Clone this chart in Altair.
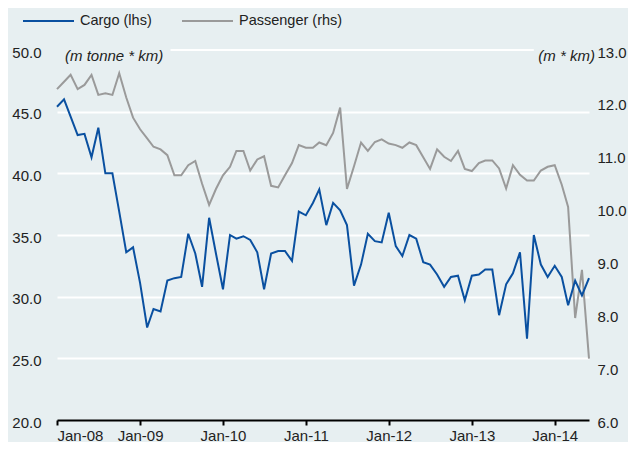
import altair as alt
import pandas as pd

months = pd.date_range("2008-01-01", periods=78, freq="MS").strftime("%Y-%m-%dT00:00:00").tolist()

cargo = [45.4, 46.0, 44.6, 43.1, 43.2, 41.3, 43.7, 40.0, 40.0, 36.9, 33.6, 34.0,
         31.1, 27.5, 29.0, 28.8, 31.3, 31.5, 31.6, 35.1, 33.5, 30.8, 36.4, 33.5,
         30.6, 35.0, 34.7, 34.9, 34.6, 33.6, 30.6, 33.5, 33.7, 33.7, 32.9, 36.9,
         36.6, 37.6, 38.7, 35.8, 37.6, 37.0, 35.8, 30.9, 32.6, 35.1, 34.5, 34.4,
         36.8, 34.1, 33.3, 35.0, 34.7, 32.8, 32.6, 31.8, 30.8, 31.6, 31.7, 29.7,
         31.7, 31.8, 32.2, 32.2, 28.5, 31.0, 31.9, 33.6, 26.6, 35.0, 32.6, 31.6,
         32.5, 31.6, 29.3, 31.3, 30.1, 31.5]

passenger = [12.26, 12.40, 12.53, 12.26, 12.34, 12.53, 12.15, 12.18, 12.15, 12.56, 12.10, 11.72,
             11.50, 11.33, 11.17, 11.12, 11.01, 10.63, 10.63, 10.82, 10.90, 10.47, 10.07, 10.37,
             10.63, 10.79, 11.09, 11.09, 10.72, 10.93, 10.99, 10.43, 10.40, 10.63, 10.86, 11.20,
             11.15, 11.15, 11.25, 11.20, 11.43, 11.91, 10.37, 10.80, 11.25, 11.09, 11.26, 11.31,
             11.23, 11.20, 11.15, 11.25, 11.20, 10.97, 10.75, 11.12, 10.98, 10.90, 11.09, 10.75,
             10.71, 10.86, 10.91, 10.91, 10.76, 10.38, 10.82, 10.64, 10.53, 10.53, 10.72, 10.79,
             10.82, 10.45, 10.03, 7.93, 8.84, 7.16]

series_names = ["Cargo (lhs)", "Passenger (rhs)"]
series_colors = ["#0a50a0", "#9a9a9a"]
year_ticks = list(range(2008, 2015))
left_ticks = [20, 25, 30, 35, 40, 45, 50]
right_ticks = [6, 7, 8, 9, 10, 11, 12, 13]

df = pd.DataFrame({"date": months, "cargo": cargo, "passenger": passenger})
one = pd.DataFrame({"k": [0]})

FONT = "Liberation Sans"
FS = 15
TXT = "#222222"
BG = "#e7eff1"

x_enc = alt.X(
    "date:T",
    scale=alt.Scale(domain=[alt.DateTime(year=2008, month=1, date=1),
                            alt.DateTime(year=2014, month=6, date=1)]),
    axis=alt.Axis(
        values=[alt.DateTime(year=y, month=1, date=1) for y in year_ticks],
        format="%b-%y", title=None, grid=False,
        domainColor="black", domainWidth=2,
        tickColor="black", tickWidth=2, tickSize=5,
        labelPadding=3, labelFont=FONT, labelFontSize=FS, labelColor=TXT,
    ),
)

color_scale = alt.Scale(domain=series_names, range=series_colors)

cargo_line = alt.Chart(df).transform_calculate(
    series=f"'{series_names[0]}'"
).mark_line(strokeWidth=2).encode(
    x=x_enc,
    y=alt.Y(
        "cargo:Q",
        scale=alt.Scale(domain=[20, 50], nice=False, zero=False),
        axis=alt.Axis(
            values=left_ticks, format=".1f", title=None,
            grid=True, gridColor="white", gridWidth=2,
            gridOpacity={"condition": {"test": "datum.value == 20 || datum.value == 50", "value": 0}, "value": 1},
            domain=False, ticks=False, labelPadding=16, labelOffset=2,
            labelFont=FONT, labelFontSize=FS, labelColor=TXT,
        ),
    ),
    color=alt.Color(
        "series:N",
        scale=color_scale,
        legend=alt.Legend(
            orient="none", legendX=-35, legendY=-55.5, direction="horizontal",
            title=None, symbolType="stroke", symbolSize=2601, symbolStrokeWidth=2,
            labelFont=FONT, labelFontSize=14.5, labelColor=TXT, labelOffset=5,
            columnPadding=26, padding=0,
        ),
    ),
)

top_rule = alt.Chart(one).mark_rule(color="white", strokeWidth=2).encode(
    x=alt.datum(alt.DateTime(year=2009, month=5, date=15)),
    x2=alt.datum(alt.DateTime(year=2013, month=10, date=1)),
    y=alt.datum(50),
)

unit_left = alt.Chart(one).mark_text(
    text="(m tonne * km)", align="left", baseline="alphabetic", dx=8, dy=11,
    font=FONT, fontSize=15, fontStyle="italic", color=TXT,
).encode(x=alt.datum(alt.DateTime(year=2008, month=1, date=1)), y=alt.datum(50))

unit_right = alt.Chart(one).mark_text(
    text="(m * km)", align="right", baseline="alphabetic", dx=6, dy=11,
    font=FONT, fontSize=15, fontStyle="italic", color=TXT,
).encode(x=alt.datum(alt.DateTime(year=2014, month=6, date=1)), y=alt.datum(50))

left = alt.layer(top_rule, cargo_line, unit_left, unit_right)

pass_line = alt.Chart(df).transform_calculate(
    series=f"'{series_names[1]}'"
).mark_line(strokeWidth=2).encode(
    x=x_enc,
    y=alt.Y(
        "passenger:Q",
        scale=alt.Scale(domain=[6, 13], nice=False, zero=False),
        axis=alt.Axis(
            orient="right", values=right_ticks, format=".1f", title=None,
            grid=False, domain=False, ticks=False, labelPadding=8, labelOffset=2,
            labelFont=FONT, labelFontSize=FS, labelColor=TXT,
        ),
    ),
    color=alt.Color("series:N", scale=color_scale),
)

chart = alt.layer(pass_line, left).resolve_scale(y="independent").properties(
    width=532, height=370,
    autosize=alt.AutoSizeParams(type="none"),
    padding={"left": 49, "top": 42, "right": 39, "bottom": 22},
).configure(background=BG).configure_view(stroke=None)

chart.save("out.html", embed_options={"renderer": "svg", "actions": False})
